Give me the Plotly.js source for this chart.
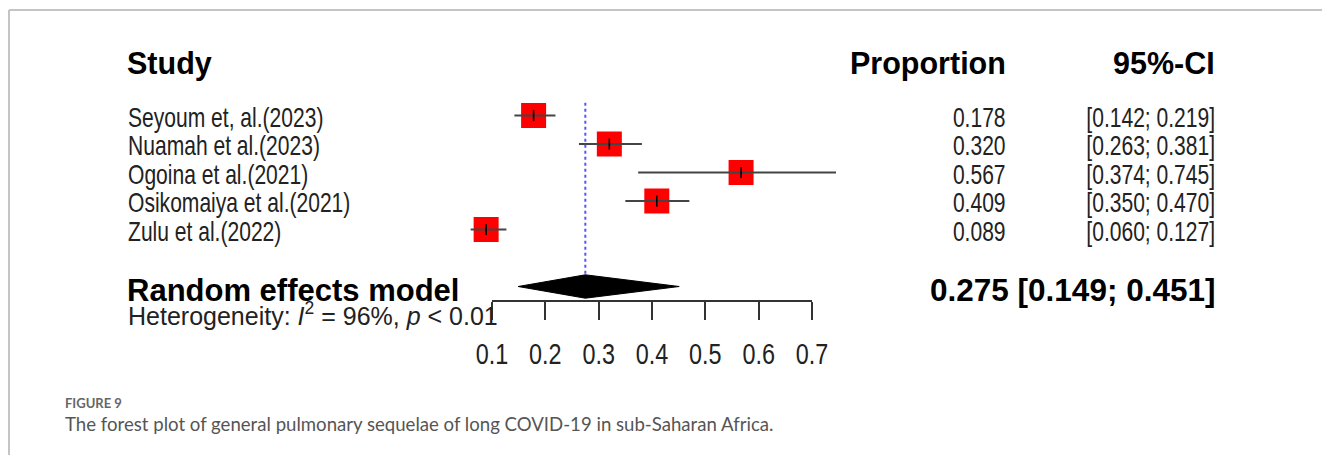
<!DOCTYPE html>
<html>
<head>
<meta charset="utf-8">
<script src="https://cdn.plot.ly/plotly-3.0.1.min.js"></script>
<style>
html,body{margin:0;padding:0;background:#fff;}
#chart{width:1322px;height:455px;}
</style>
</head>
<body>
<div id="chart"></div>
<script>
// ---- data ----
const studies = ["Seyoum et, al.(2023)", "Nuamah et al.(2023)", "Ogoina et al.(2021)", "Osikomaiya et al.(2021)", "Zulu et al.(2022)"];
const proportion = [0.178, 0.320, 0.567, 0.409, 0.089];
const ciLower = [0.142, 0.263, 0.374, 0.350, 0.060];
const ciUpper = [0.219, 0.381, 0.745, 0.470, 0.127];
const pooledLabel = "Random effects model";
const pooledEst = 0.275;
const pooledLower = 0.149;
const pooledUpper = 0.451;
const i2 = 96;
const pText = "< 0.01";
const tickVals = [0.1, 0.2, 0.3, 0.4, 0.5, 0.6, 0.7];
const tickText = ["0.1", "0.2", "0.3", "0.4", "0.5", "0.6", "0.7"];
const headers = ["Study", "Proportion", "95%-CI"];
const figLabel = "FIGURE 9";
const caption = "The forest plot of general pulmonary sequelae of long COVID-19 in sub-Saharan Africa.";

// ---- layout helpers ----
const W = 1322, H = 455;
const px = v => v / W;            // pixel x -> paper
const py = v => 1 - v / H;        // pixel y -> paper
const rowY = studies.map((_, i) => i);
const pooledY = studies.length + 1;
const SANS = "Liberation Sans, Arial, sans-serif";
const TXT = "#222";
const NARROW_SCALE = 0.78;

const traces = [];

// squares
traces.push({
  type: "scatter", mode: "markers", x: proportion, y: rowY,
  marker: {symbol: "square", size: 25, color: "#ff0000", line: {width: 0}},
  hoverinfo: "skip", showlegend: false, cliponaxis: false
});
// CI lines
const ciX = [], ciYs = [];
studies.forEach((_, i) => { ciX.push(ciLower[i], ciUpper[i], null); ciYs.push(rowY[i], rowY[i], null); });
traces.push({
  type: "scatter", mode: "lines", x: ciX, y: ciYs,
  line: {color: "#444", width: 2.2}, hoverinfo: "skip", showlegend: false
});
// point tick inside square
traces.push({
  type: "scatter", mode: "markers", x: proportion, y: rowY,
  marker: {symbol: "line-ns", size: 8, line: {width: 1.6, color: "#000"}},
  hoverinfo: "skip", showlegend: false, cliponaxis: false
});
// dotted pooled line
traces.push({
  type: "scatter", mode: "lines", x: [pooledEst, pooledEst], y: [-0.45, pooledY - 0.45],
  line: {color: "#5555ff", width: 2, dash: "dot"}, hoverinfo: "skip", showlegend: false
});
// diamond
traces.push({
  type: "scatter", mode: "lines", fill: "toself", fillcolor: "#000",
  x: [pooledLower, pooledEst, pooledUpper, pooledEst, pooledLower],
  y: [pooledY, pooledY - 0.41, pooledY, pooledY + 0.41, pooledY],
  line: {color: "#000", width: 1}, hoverinfo: "skip", showlegend: false
});
// invisible trace carrying the visible axis
traces.push({
  type: "scatter", mode: "markers", x: tickVals, y: tickVals.map(() => pooledY),
  xaxis: "x2", yaxis: "y", marker: {opacity: 0}, hoverinfo: "skip", showlegend: false
});

const ann = [];
const narrowIdx = [];
function add(text, xpx, y, anchor, font, opts) {
  opts = opts || {};
  ann.push({text: text, x: px(xpx), xref: "paper", y: y, yref: opts.yref || "y",
    xanchor: anchor, yanchor: "middle", showarrow: false, font: font, borderpad: 0,
    yshift: opts.yshift || 0});
  if (opts.narrow) narrowIdx.push(ann.length - 1);
}
const rowPix = v => (v - 115.5) / 28.5;
const boldFont = {family: SANS, size: 30.5, color: "#000"};
add("<b>" + headers[0] + "</b>", 126, rowPix(63), "left", boldFont);
add("<b>" + headers[1] + "</b>", 1007, rowPix(63), "right", boldFont);
add("<b>" + headers[2] + "</b>", 1216, rowPix(63), "right", boldFont);
const regFont = {family: SANS, size: 27, color: TXT};
studies.forEach((s, i) => {
  add(s, 127, rowY[i], "left", regFont, {narrow: true, yshift: -2});
  add(proportion[i].toFixed(3), 1007, rowY[i], "right", regFont, {narrow: true, yshift: -2});
  add("[" + ciLower[i].toFixed(3) + "; " + ciUpper[i].toFixed(3) + "]", 1216, rowY[i], "right", regFont, {narrow: true, yshift: -2});
});
add("<b>" + pooledLabel + "</b>", 126, rowPix(290), "left", {family: SANS, size: 31, color: "#000"});
add("<b>" + pooledEst.toFixed(3) + " [" + pooledLower.toFixed(3) + "; " + pooledUpper.toFixed(3) + "]</b>", 1216, rowPix(290), "right", {family: SANS, size: 31.5, color: "#000"});
add("Heterogeneity: <i>I</i><sup>2</sup> = " + i2 + "%, <i>p</i> " + pText.replace("<", "&lt;"), 127, rowPix(314), "left", {family: SANS, size: 25, color: TXT});
add("<b>" + figLabel + "</b>", 64, py(403), "left", {family: "Lato, Open Sans, sans-serif", size: 13, color: "#666"}, {yref: "paper"});
add(caption, 64, py(424), "left", {family: "Lato, Open Sans, sans-serif", size: 18.6, color: "#555"}, {yref: "paper"});

const layout = {
  width: W, height: H, margin: {l: 0, r: 0, t: 0, b: 0},
  paper_bgcolor: "#fff", plot_bgcolor: "rgba(0,0,0,0)",
  showlegend: false,
  xaxis: {visible: false, range: [0.1 - 492 / 533.333, 0.1 + (W - 492) / 533.333], domain: [0, 1], fixedrange: true},
  xaxis2: {
    domain: [px(492), px(812)], range: [0.1, 0.7], anchor: "free", position: py(300.5),
    showline: true, linecolor: "#333", linewidth: 2, ticks: "outside", ticklen: 18, tickwidth: 2, tickcolor: "#333",
    tickmode: "array", tickvals: tickVals, ticktext: tickText, showgrid: false, zeroline: false,
    tickfont: {family: SANS, size: 30, color: TXT}, ticklabelstandoff: 9
  },
  yaxis: {visible: false, range: [rowPix(455), rowPix(0)], domain: [0, 1], fixedrange: true},
  annotations: ann,
  shapes: [
    {type: "line", xref: "paper", yref: "paper", x0: px(9), x1: 1, y0: py(10), y1: py(10), line: {color: "#c4c4c4", width: 2}},
    {type: "line", xref: "paper", yref: "paper", x0: px(9), x1: px(9), y0: py(10), y1: 0, line: {color: "#c4c4c4", width: 2}}
  ]
};

function condense(el, anchor) {
  const bb = el.getBBox();
  const ax = anchor === "right" ? bb.x + bb.width : anchor === "left" ? bb.x : bb.x + bb.width / 2;
  const prev = el.getAttribute("transform") || "";
  el.setAttribute("transform", prev + " translate(" + ax + ",0) scale(" + NARROW_SCALE + ",1) translate(" + (-ax) + ",0)");
}

Plotly.newPlot("chart", traces, layout, {displayModeBar: false, staticPlot: true}).then(gd => {
  gd.querySelectorAll("g.annotation").forEach(g => {
    const idx = +g.getAttribute("data-index");
    if (narrowIdx.indexOf(idx) < 0) return;
    const t = g.querySelector("text.annotation-text");
    if (t) condense(t, ann[idx].xanchor);
  });
  gd.querySelectorAll("g.x2tick text").forEach(t => condense(t, "middle"));
});
</script>
</body>
</html>
